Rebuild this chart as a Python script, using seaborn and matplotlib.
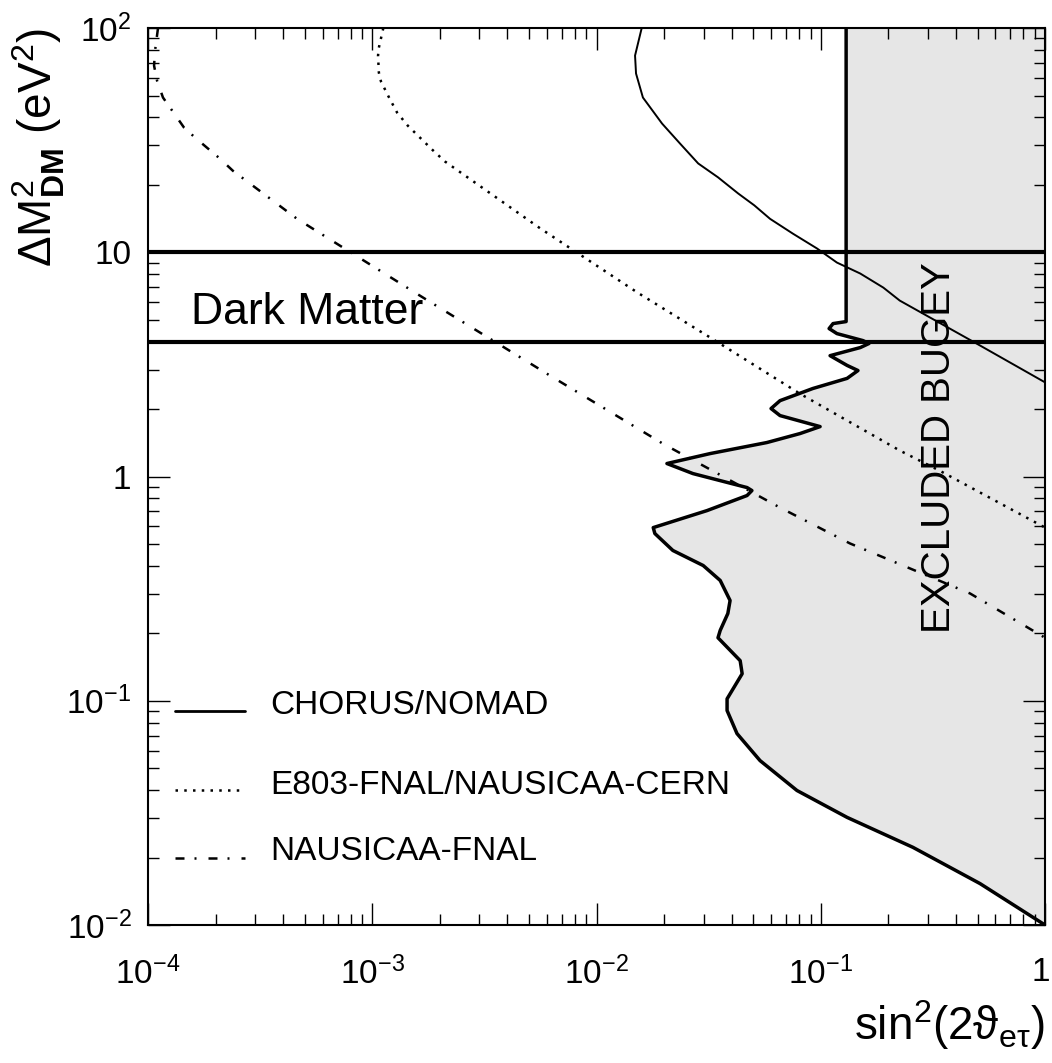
import matplotlib
matplotlib.use('Agg')
import matplotlib.pyplot as plt
import matplotlib.transforms as mtransforms
from matplotlib.ticker import LogLocator, NullFormatter, FixedLocator, FixedFormatter
import seaborn as sns

# exclusion curves (x = sin^2(2theta), y = dM^2 in eV^2)
chorus_x = [0.0159, 0.01485, 0.0150, 0.0161, 0.0196, 0.0236, 0.0284, 0.0348, 0.0428, 0.0505,
            0.0594, 0.0752, 0.0962, 0.118, 0.150, 0.190, 0.225, 0.513, 1.0]
chorus_y = [100, 75.4, 62.7, 49.0, 37.5, 30.5, 24.9, 21.6, 18.3, 16.2,
            14.1, 12.1, 10.4, 9.0, 8.04, 6.96, 6.09, 3.84, 2.63]

e803_x = [1.12e-3, 1.07e-3, 1.061e-3, 1.07e-3, 1.094e-3, 1.14e-3, 1.188e-3, 1.29e-3, 1.44e-3, 1.63e-3,
          1.85e-3, 2.11e-3, 5.6e-3, 0.0152, 0.0321, 0.0808, 0.225, 0.340, 1.0]
e803_y = [100, 81.8, 75.4, 63.3, 57.7, 53.2, 49.0, 42.0, 36.7, 32.5,
          28.7, 25.4, 12.8, 6.62, 4.17, 2.34, 1.306, 1.06, 0.592]

nausicaa_x = [1.108e-4, 1.075e-4, 1.064e-4, 1.097e-4, 1.166e-4, 1.28e-4, 1.447e-4, 1.62e-4, 1.83e-4, 2.09e-4,
              2.39e-4, 3.06e-4, 4.62e-4, 1.63e-3, 6.2e-3, 0.0198, 0.0658, 0.135, 0.463, 1.0]
nausicaa_y = [100, 79.4, 68, 58.3, 49, 42.9, 36, 32.5, 29.3, 26.2,
              23.1, 19.2, 14.1, 6.41, 2.82, 1.40, 0.727, 0.503, 0.301, 0.191]

bugey_x = [0.1297, 0.1297, 0.1134, 0.1089, 0.118, 0.154, 0.164, 0.150, 0.110, 0.131,
           0.1465, 0.131, 0.0922, 0.0658, 0.060, 0.0658, 0.0993, 0.0808, 0.0575, 0.0321,
           0.0206, 0.0269, 0.0469, 0.0493, 0.0469, 0.0311, 0.0179, 0.0182, 0.0219, 0.0299,
           0.0356, 0.0394, 0.0385, 0.0356, 0.0348, 0.0437, 0.0446, 0.0382, 0.0382, 0.0423,
           0.0536, 0.0783, 0.131, 0.2576, 0.513, 1.0]
bugey_y = [100, 4.91, 4.81, 4.57, 4.34, 4.04, 3.92, 3.76, 3.46, 3.13,
           2.97, 2.74, 2.47, 2.18, 2.01, 1.87, 1.67, 1.555, 1.418, 1.266,
           1.143, 1.031, 0.893, 0.866, 0.823, 0.705, 0.592, 0.557, 0.468, 0.401,
           0.344, 0.280, 0.245, 0.206, 0.191, 0.151, 0.132, 0.102, 0.0905, 0.0714,
           0.0541, 0.0398, 0.0302, 0.0222, 0.0153, 0.01]

dark_matter_band = [4.0, 10.0]

x_ticks = [1e-4, 1e-3, 1e-2, 1e-1, 1]
x_ticklabels = [r'$10^{-4}$', r'$10^{-3}$', r'$10^{-2}$', r'$10^{-1}$', '1']
y_ticks = [1e-2, 1e-1, 1, 10, 100]
y_ticklabels = [r'$10^{-2}$', r'$10^{-1}$', '1', '10', r'$10^{2}$']

legend_labels = ['CHORUS/NOMAD', 'E803-FNAL/NAUSICAA-CERN', 'NAUSICAA-FNAL']

DOTTED = (0, (1, 2.5))
DASHDOT = (0, (3.6, 4.0, 0.8, 4.8))

sns.set_theme(style='ticks')
plt.rcParams['font.family'] = ['Liberation Sans', 'DejaVu Sans']
plt.rcParams['mathtext.fontset'] = 'custom'
plt.rcParams['mathtext.rm'] = 'Liberation Sans'
plt.rcParams['mathtext.it'] = 'Liberation Sans:italic'
plt.rcParams['mathtext.bf'] = 'Liberation Sans:bold'
for key in ('text.color', 'axes.labelcolor', 'xtick.color', 'ytick.color', 'axes.edgecolor'):
    plt.rcParams[key] = 'black'

fig = plt.figure(figsize=(10.52, 10.63), dpi=100)
ax = fig.add_axes([0.1407, 0.1298, 0.8527, 0.8438])
ax.set_xscale('log')
ax.set_yscale('log')

# excluded region (Bugey)
ax.fill_betweenx(bugey_y, bugey_x, 1, color='#e6e6e6', lw=0, zorder=0)

for yv in dark_matter_band:
    ax.axhline(yv, color='black', lw=3, zorder=3)

sns.lineplot(x=bugey_x, y=bugey_y, sort=False, estimator=None, ax=ax, color='black', lw=2.5)
sns.lineplot(x=chorus_x, y=chorus_y, sort=False, estimator=None, ax=ax, color='black', lw=1.4)
sns.lineplot(x=e803_x, y=e803_y, sort=False, estimator=None, ax=ax, color='black', lw=1.8,
             linestyle=DOTTED)
sns.lineplot(x=nausicaa_x, y=nausicaa_y, sort=False, estimator=None, ax=ax, color='black', lw=1.8,
             linestyle=DASHDOT)

ax.set_xlim(1e-4, 1)
ax.set_ylim(1e-2, 1e2)

ax.xaxis.set_major_locator(FixedLocator(x_ticks))
ax.xaxis.set_major_formatter(FixedFormatter(x_ticklabels))
ax.yaxis.set_major_locator(FixedLocator(y_ticks))
ax.yaxis.set_major_formatter(FixedFormatter(y_ticklabels))
for axis in (ax.xaxis, ax.yaxis):
    axis.set_minor_locator(LogLocator(base=10, subs=range(2, 10), numticks=20))
    axis.set_minor_formatter(NullFormatter())

ax.tick_params(which='both', direction='in', top=True, right=True, width=1, color='black',
               labelsize=24)
ax.tick_params(axis='x', pad=23)
ax.tick_params(axis='y', pad=12)
ax.tick_params(which='major', length=16)
ax.tick_params(which='minor', length=8)
for sp in ax.spines.values():
    sp.set_linewidth(1.5)
    sp.set_zorder(5)

# keep the "1" at the right end inside the figure
last = ax.get_xticklabels()[-1]
last.set_horizontalalignment('right')
last.set_transform(last.get_transform() + mtransforms.ScaledTranslation(5 / 100, 0, fig.dpi_scale_trans))

ax.set_xlabel(r'$\mathregular{sin^2(2\vartheta_{e\tau})}$', fontsize=33, loc='right', labelpad=5)
ax.set_ylabel(r'$\Delta\mathrm{M}^2_{\mathbf{DM}}$ (eV$^2$)', fontsize=33, loc='top')
ax.yaxis.set_label_coords(-0.09, 1.0)

ax.text(1.55e-4, 5.4, 'Dark Matter', fontsize=32, ha='left', va='center')
ax.text(0.336, 1.35, 'EXCLUDED BUGEY', fontsize=29, rotation=90, ha='center', va='center')

# hand-made legend, lower left
legend_styles = [('-', 2.0), (DOTTED, 1.8), (DASHDOT, 1.8)]
legend_line_y = [0.2386, 0.1505, 0.0747]
legend_text_y = [0.2352, 0.146, 0.0725]
for lab, (ls, lw), ly, ty in zip(legend_labels, legend_styles, legend_line_y, legend_text_y):
    ax.plot([0.030, 0.108], [ly, ly], transform=ax.transAxes, color='black', lw=lw, linestyle=ls)
    ax.text(0.136, ty, lab, transform=ax.transAxes, fontsize=24, ha='left', va='baseline')

fig.savefig('out.png', dpi=100)
